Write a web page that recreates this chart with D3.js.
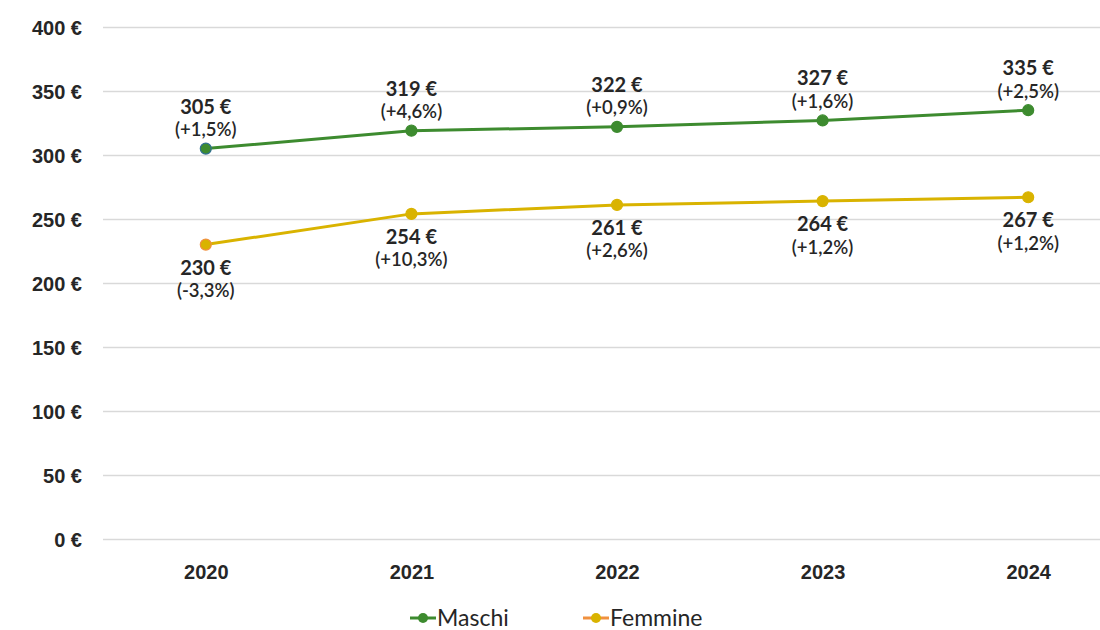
<!DOCTYPE html>
<html><head><meta charset="utf-8">
<script src="https://cdn.jsdelivr.net/npm/d3@7/dist/d3.min.js"></script>
<style>
html,body{margin:0;padding:0;background:#fff;overflow:hidden}
svg{display:block;font-family:Lato,"Open Sans",sans-serif}
</style></head>
<body><svg id="chart" width="1100" height="630"></svg>
<script>
const years = ["2020","2021","2022","2023","2024"];
const maschi = [305,319,322,327,335];
const femmine = [230,254,261,264,267];
const maschiPct = ["(+1,5%)","(+4,6%)","(+0,9%)","(+1,6%)","(+2,5%)"];
const femminePct = ["(-3,3%)","(+10,3%)","(+2,6%)","(+1,2%)","(+1,2%)"];
const yTicks = [0,50,100,150,200,250,300,350,400];
const seriesNames = ["Maschi","Femmine"];

const svg = d3.select("#chart");
const x = d3.scalePoint().domain(years).range([103,1131]).padding(0.5);
const y = d3.scaleLinear().domain([0,400]).range([539,27]);
const textCol = "#262626";
const green = "#3d8b2f", gold = "#d9b300", orange = "#f0913f";

// gridlines
const yAxis = d3.axisLeft(y).tickValues(yTicks).tickSize(-(1131-103)).tickFormat(d => d + " €");
const gy = svg.append("g").attr("transform","translate(103,0)").call(yAxis);
gy.select(".domain").remove();
gy.selectAll(".tick line").attr("stroke","#d9d9d9").attr("stroke-width",1.3);
gy.selectAll(".tick text").attr("x",-21).attr("fill",textCol)
  .style("font-size","20px").style("font-weight","bold").attr("dy","0.35em");

// x axis
const xAxis = d3.axisBottom(x).tickSize(0).tickPadding(0);
const gx = svg.append("g").attr("transform","translate(0,539)").call(xAxis);
gx.select(".domain").remove();
gx.selectAll(".tick text").attr("y",33).attr("dy","0.35em").attr("fill",textCol)
  .style("font-size","20px").style("font-weight","bold");

const line = d3.line().x((d,i)=>x(years[i])).y(d=>y(d));
function drawSeries(vals, col, mcol, stroke){
  svg.append("path").datum(vals).attr("d",line).attr("fill","none").attr("stroke",col).attr("stroke-width",3);
  svg.selectAll(null).data(vals).enter().append("circle")
    .attr("cx",(d,i)=>x(years[i])).attr("cy",d=>y(d)).attr("r",5.5)
    .attr("fill",mcol).attr("stroke",(d,i)=> i===0 ? stroke : mcol).attr("stroke-width",1.2);
}
drawSeries(maschi, green, green, "#2f6f8f");
drawSeries(femmine, gold, gold, orange);

function labels(vals, pcts, above){
  const g = svg.append("g").attr("fill",textCol).attr("text-anchor","middle");
  g.selectAll(null).data(vals).enter().append("text")
    .attr("x",(d,i)=>x(years[i])).attr("y",d=> y(d) + (above ? -42 : 23)).attr("dy","0.35em")
    .style("font-size","20px").style("font-weight","bold").text(d=>d+" €");
  g.selectAll(null).data(pcts).enter().append("text")
    .attr("x",(d,i)=>x(years[i])).attr("y",(d,i)=> y(vals[i]) + (above ? -19 : 46)).attr("dy","0.35em")
    .style("font-size","18.5px").style("font-weight","600").text(d=>d);
}
labels(maschi, maschiPct, true);
labels(femmine, femminePct, false);

// legend
const legItems = [{name:seriesNames[0], line:green, mk:green, x:410},{name:seriesNames[1], line:orange, mk:gold, x:583}];
const lg = svg.append("g");
legItems.forEach(it=>{
  lg.append("line").attr("x1",it.x).attr("x2",it.x+26).attr("y1",618).attr("y2",618).attr("stroke",it.line).attr("stroke-width",3);
  lg.append("circle").attr("cx",it.x+13).attr("cy",618).attr("r",5).attr("fill",it.mk);
  lg.append("text").attr("x",it.x+27).attr("y",618).attr("dy","0.35em").attr("fill",textCol)
    .style("font-size","23px").text(it.name);
});
</script></body></html>
